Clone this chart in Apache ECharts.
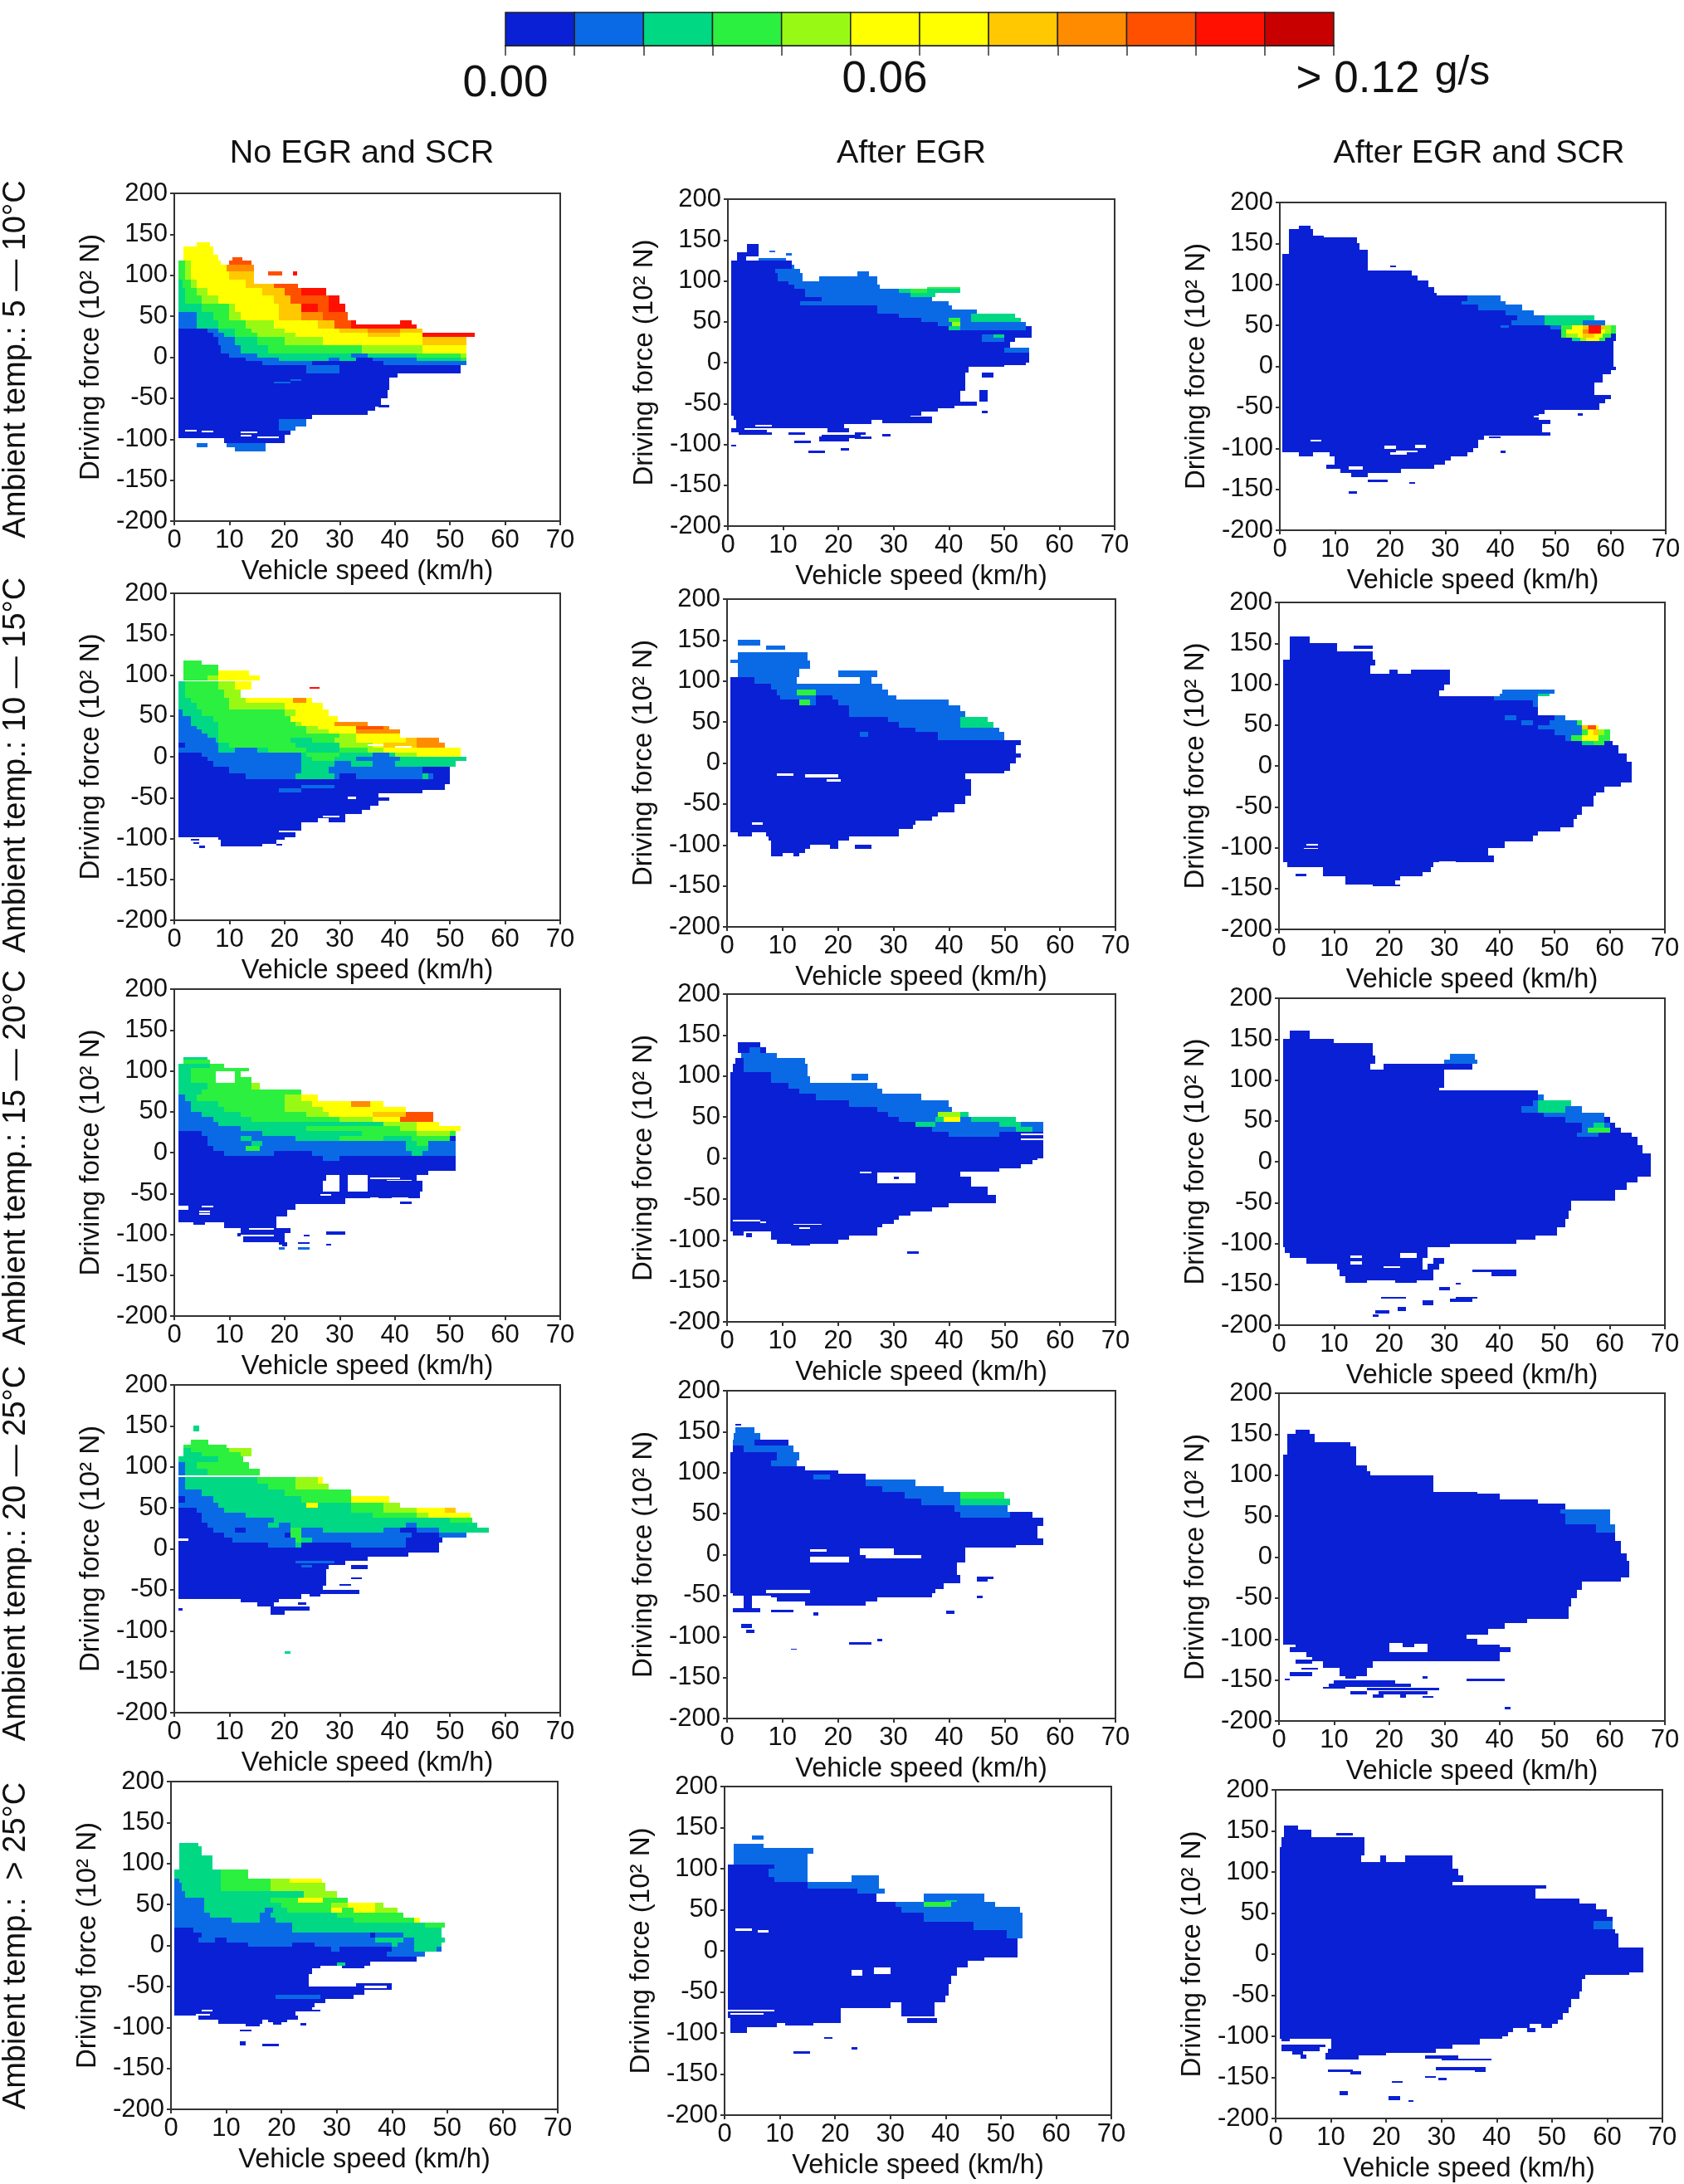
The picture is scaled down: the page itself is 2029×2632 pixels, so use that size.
<!DOCTYPE html>
<html><head><meta charset="utf-8">
<style>html,body{margin:0;padding:0;background:#fff}#c{width:2029px;height:2632px}</style>
<script src="https://cdn.jsdelivr.net/npm/echarts@6/dist/echarts.min.js"></script>
</head><body><div id="c"></div>
<script>
// Colour classes, level 1..12 = 0.00-0.01 ... 0.11-0.12 g/s; level 0 = no data
const palette=['#ffffff','#0a20d4','#0a6ae6','#00d884','#2cf040','#98fa14','#ffff00','#ffff00','#ffc800','#ff8c00','#ff5000','#ff1000','#c80000'];
const colorbarEdges=[0,0.01,0.02,0.03,0.04,0.05,0.06,0.07,0.08,0.09,0.10,0.11,0.12];
const colorbarLabels=['0.00','0.06','> 0.12'];
const colorbarUnit='g/s';
const columnTitles=['No EGR and SCR','After EGR','After EGR and SCR'];
const rowTitles=['Ambient temp.: 5 \u2014 10°C','Ambient temp.: 10 \u2014 15°C','Ambient temp.: 15 \u2014 20°C','Ambient temp.: 20 \u2014 25°C','Ambient temp.:  > 25°C'];
const xName='Vehicle speed (km/h)';
const yName='Driving force (10² N)';

// Each row: [forceHigh, forceLow, speedStart, speedEnd1, level1, speedEnd2, level2, ...]
const r1c1=[
[140,135,4,6.5,6],[135,125,1.7,7,6],[125,118,1.7,8,6],[122,118,10.5,12.3,10],
[118,113,0.7,2,4,3,5,8.5,6,10,0,14,10],[113,105,0.7,2,4,3,5,9.5,6,14.5,9],[105,100,17,19.5,10],[105,100,21.5,22.3,11],
[105,95,0.7,2,4,3,5,10,6,14.5,8],[95,90,0.7,1.5,3,3,4,4,5,13,6,14.5,8],[90,85,0.7,1.5,3,3,4,4,5,13,6,18,8,22.5,10],
[85,75,0.7,2,3,4,4,6,5,16,6,20,8,23,10,27.5,11],[75,65,0.7,2,3,5,4,8,5,18,6,21,8,24,10,28,10,30,11],
[65,55,0.7,5,3,10,4,11,5,19,6,23,8,26,11,28,10,31,11],[55,45,0.7,4,2,7,3,10,4,12,5,19,6,23,8,27,9,31.5,10],
[45,40,0.7,4,2,8,3,13,4,18,5,26,6,29,8,32,10,33,11,41,0,43,11],[40,35,0.7,4,2,8,3,13,4,18,5,26,6,29,8,32,10,44,11],
[35,30,0.7,6,1,8,2,11,3,14,4,20,5,30,6,35,8,41,9,45,8],
[30,25,0.7,7,1,9,2,11,3,15,4,22,5,35,6,41,8,45,6,54.5,11],[25,15,0.7,8,1,11,2,15,3,20,4,27,5,45,6,53,8],
[15,5,0.7,8.5,1,12,2,17,3,34,4,45,5,53,6],[5,0,0.7,10,1,15,2,32,3,35,2,44,3,52,4,53,5],
[0,-5,0.7,13,1,19,2,28,3,30,2,33,3,36,1,44,2,52,3,53,4],[-5,-10,0.7,16,1,25,2,38,1,53,2],
[-10,-20,0.7,24,1,30,2,52,1],[-20,-25,0.7,40.5,1],[-25,-40,0.7,39,1],[-40,-50,0.7,38.7,1],[-50,-60,0.7,37.5,1],[-58,-61,37,39,1],
[-60,-65,0.7,36.5,1],[-65,-70,0.7,35,1],[-70,-75,0.7,25,1],[-75,-85,0.7,19,1,24,2],[-85,-90,0.7,19,1,22,2],
[-90,-95,0.7,21,1],[-95,-99,0.7,20,1],[-99,-105,9,20,1],[-105,-110,4,6,2],[-105,-110,9.5,16.5,2],[-110,-115,11,16.5,2],
[-89,-91,2,4,0],[-90,-92,5,7,0],[-91,-93,12,15,0],[-95,-97,12,14,0],[-97,-99,15,19,0],[-30,-32,18,21,2],[-27,-29,21,23,2]];

const r2c1=[
[118,113,1.7,5,4],[113,106,1.7,8,4],[106,99,1.7,8,4,13.5,6],[99,93,1.7,6,4,8,5,15.5,6],
[92,82,0.7,2,3,8,4,11,5,14,6],[82,72,0.7,2,3,9,4,12,5],[85,83,24.5,26.3,11],
[72,66,0.7,3,3,10,4,13,5,21.5,6,24,9,25,6],[66,58,0.7,4,3,10,4,20,5,27,6],[58,50,0.7,1.5,2,5,3,20,4,22,5,28,6],
[50,43,0.7,3,2,7,3,21,4,29.6,6],[43,38,0.7,3,2,8,3,22,4,23,5,29,6,35,9],[38,33,0.7,4,2,8,3,24,4,26,5,33,6,38,10,39,9],
[33,28,0.7,5,2,8,3,24,4,28,5,33,6,41,9],[28,23,0.7,6,2,8,3,30,4,33,5,41,6],
[23,17,0.7,7.5,2,8,3,21,4,25,3,29,4,33,5,42,6,44,8,48,9],[17,11,0.7,2,1,8,2,10,3,22,4,30,3,36,5,38,6,44,8,49,9],
[11,5,0.7,8,2,11,3,15,2,17,3,24,4,30,3,35,4,38,5,43,6,52,6],[5,0,0.7,5,1,15,2,23,2,24,3,30,4,36,3,39,2,40,3,44,5,52,6],
[0,-5,0.7,6,1,23,2,25,3,29,4,33,3,41,2,44,3,53,3],[-5,-12,0.7,7,1,23,2,29,3,32,2,36,3,40,2,51,3],
[-12,-20,0.7,10,1,23,2,28,3,45,2,50,1],[-20,-27,0.7,13,1,22,2,29,3,30,2,33,1,45,2,46,3,47,2,50,1],
[-27,-34,0.7,50,1],[-34,-41,0.7,49,1],[-41,-45,0.7,45,1],[-39,-44,19,23,2],[-35,-39,23,29,2],
[-45,-50,0.7,37,1],[-50,-54,0.7,39,1],[-49,-52,31.5,33,0],[-54,-60,0.7,37,1],[-60,-65,0.7,35.5,1],[-65,-70,0.7,34,1],
[-70,-75,0.7,31,1],[-75,-80,0.7,26,1,28,0,31,1],[-80,-90,0.7,23,1],[-90,-98,0.7,22,1],[-98,-102,8,20,1],[-102,-107,8.5,18.5,1],
[-107,-110,8.5,16,1],[-101,-103,3,4.5,1],[-105,-107,3.5,4.5,1],[-109,-112,4.5,5.5,1],[-107,-109,18.5,19.5,1],
[15,13,35,38,0],[13,11,40,43,0],[-72,-74,27,30,0],[-90,-92,19,22,0]];

const r3c1=[
[117,114,1.7,6,3],[114,109,1.7,6.5,4],[109,104,0.7,6.5,3,9,4],[104,100,0.7,3,3,13.5,4],
[100,92,0.7,3,3,7.5,4,11,0,12,4],[92,85,0.7,3,3,7.5,4,11,0,14,4],[85,77,0.7,3,3,6,3,14,4,15.5,5],[77,71,0.7,2,3,5,3,23,4],
[71,63,0.7,2,2,4,3,12,4,20,4,23,5,26,6],[63,56,0.7,3,2,8,3,20,4,25,5,32,6,35.5,9,38,6],[56,50,0.7,3,2,9,3,20,4,27,5,33,6,42,6],
[50,44,0.7,5,2,12,3,24,4,28,5,36,6,42,8,47,10],[44,38,0.7,7,2,14,3,30,4,36,5,41,6,47,10],
[38,32,0.7,8,2,13,3,38,3,44,5,48,6],[32,26,0.7,9,2,12,2,24,3,41,4,44,5,52,6],
[26,20,0.7,5,1,6,2,16,2,34,3,44,4,50,5,51,4],[20,14,0.7,6,1,12,2,14,3,22,2,30,3,38,4,43,3,50,4,51,1],
[14,8,0.7,6,1,14,2,16,3,21,2,42,2,44,3,46,4,51,2],[8,2,0.7,7,1,13,2,15.5,4,24,2,42,2,46,3,51,2],
[2,-4,0.7,9,1,18,2,22,1,25,1,35,2,43,2,45,3,51,2],[-4,-10,0.7,20,1,27,1,30,2,51,1],[-10,-22,0.7,51,1],[-22,-27,0.7,46,1],
[-27,-35,0.7,27.5,1,30,0,31.5,1,35,0,44,1],[-35,-48,0.7,27,1,30,0,31.5,1,35,0,45,1],[-30,-32,35.5,41,0],[-33,-35,38.5,43,0],
[-48,-56,0.7,44.5,1],[-51,-53,26.5,28.5,0],[-55,-57,35.5,37,0],[-55,-57,39.5,42.5,0],[-56,-63,0.7,31,1],[-60,-63,41,43,1],
[-63,-70,0.7,22,1],[-65,-70,0.7,2.5,0],[-65,-67,5,7,0],[-70,-78,0.7,20.5,1],[-71,-73,4.5,6.5,0],[-74,-76,4.5,6.5,0],[-78,-85,0.7,18.5,1],
[-85,-92,9,18.5,1],[-85,-88,3.5,5.5,1],[-92,-98,12,21,1],[-96,-101,27.5,31,1],[-98,-103,11.5,20,1],[-100,-103,23.5,24.5,1],
[-103,-110,12.5,20,1],[-110,-113,19,20.5,1],[-113,-115,19.5,20.5,1],[-110,-112,22.5,24.5,1],[-116,-119,19,20,2],[-116,-119,22.5,24.5,2],
[-112,-114,27.5,28.5,1],[-92,-94,13.5,18,0],[-101,-103,12,18,0]];

const r4c1=[
[150,143,3.5,4.5,3],[133,127,3,6.2,4],[127,123,1.7,9.5,4],[123,118,1.7,3,3,10,4,14,5],[118,113,1.7,5,3,12,4,14,5],
[113,106,0.7,8,3,12.5,4],[106,98,0.7,2,2,4,3,13.5,4],[98,90,0.7,2,2,6,3,15.5,4],
[88,80,0.7,2,2,15,3,22,4,26,5,27,6],[80,72,0.7,2,2,17,3,22,4,28,5],[72,64,0.7,5,2,20,3,26,4,32,4],
[64,56,0.7,2,1,7,2,23,3,32,4,39,6],[56,50,0.7,3,2,8,2,24,3,26,6,32,3,38,4,41,5],
[50,44,0.7,4,1,9,2,32,3,38,4,44,5,49,6,51,8],[44,38,0.7,5,1,13,2,36,3,44,4,46,5,53.7,6],
[38,32,0.7,5,1,18,2,50,3,54,4],[32,26,0.7,6,1,17,2,19,3,21,2,26,3,42,3,44,2,48,3,55,3],
[26,20,0.7,7,1,11,2,13,1,21,2,23,4,27,2,38,3,41,2,44,1,48,2,50,3,57,3],
[20,14,0.7,9,1,20,2,21,1,23,4,36,2,43,2,48,1,53,2],[14,8,0.7,10.5,1,22,2,23,4,25,3,42,2,48.6,1],
[8,2,0.7,17,1,22,2,23,3,32,1,42,2,48,1],[2,-5,0.7,48,1],[-5,-10,0.7,42.5,1],[-10,-15,0.7,35,1],[-15,-20,0.7,31,1],
[-20,-25,0.7,28,1,32,0,35,1],[-25,-45,0.7,27.5,1],[-45,-50,0.7,27,1],[-50,-55,0.7,33.5,1],[-55,-61,0.7,23,1],
[-61,-65,12,19,1],[-65,-70,15,18,1],[-70,-75,17.5,24.5,1],[-75,-80,17.5,20,1],[-72,-75,0.7,1.5,1],[-65,-68,22.5,24,1],[-55,-58,24.5,26.5,1],
[-15,-18,22,29,2],[-20,-23,23,25,2],[13,10,0.7,2.5,0],[-125,-128,20,21,3],[-35,-37,32,34,1],[-43,-45,30,32,1]];

const r5c1=[
[125,121,1.5,5,3],[121,110,1.5,5.5,3],[110,102,1.5,7.5,3],[102,93,1.5,7.5,3],[93,85,0.6,9,3,14,4],
[82,76,0.6,1.5,2,9,3,18,4,21.5,5,27.4,6],[85,82,0.6,9,3,14,4],[76,66,0.6,2,2,9,3,18,4,26,5,28,5],
[66,58,0.6,2.5,2,8,3,24,3,30,5],[58,52,0.6,6,2,18,3,23,4,27.5,6,30,4,32,4],
[52,46,0.6,6,2,20,3,29,4,32,5,37,6,38.5,5],[46,40,0.6,6,2,17,3,18.5,2,21,3,29,4,31,6,33,4,37,6,41,5],
[40,34,0.6,7,2,16,3,18,2,21,3,30,3,42,4],[34,28,0.6,11,2,16,3,19,2,21,3,33,3,44,4,45,6],
[28,22,0.6,17,2,22,2,23,3,38,3,46,3,49.5,4],[22,16,0.6,4,1,22,2,36,3,49,3],[16,10,0.6,5.5,1,22,2,36,2,37,1,42,2,48,3,49,3],
[10,4,0.6,5,1,8,2,10,1,30,2,37,2,42,3,44,2,49.5,3],[4,-2,0.6,14,1,22,2,26,1,32,2,40,2,41,3,44,2,49,3],
[-2,-8,0.6,21,1,29,1,30.5,2,34,1,40,1,44,2,48,3,49,2],[-8,-14,0.6,34,1,37,1,39,1,46,2],[-14,-20,0.6,44.5,1],
[-20,-25,0.6,36,1],[-21,-25,30,31.5,3],[-25,-28,0.6,27,1,31,0,35,1],[-28,-35,0.6,25.5,1],[-35,-50,0.6,25,1],
[-46,-54,33.5,40,1],[-49,-52,35,39,0],[-50,-60,0.6,35,1],[-60,-65,0.6,33,1],[-60,-65,19,27,2],[-65,-70,0.6,28,1],[-70,-75,0.6,26,1],
[-75,-80,0.6,25.5,1],[-80,-86,0.6,22.5,1],[-78,-80,5.5,7.5,0],[-84,-88,4.5,7,0],[-86,-91,5,23,1],[-91,-96,8.5,16.5,1],[-96,-99,13.5,16,1],
[-91,-94,17.5,21,1],[-94,-97,18.5,20,1],[-95,-98,23.5,24.5,1],[-103,-105,12.5,14.5,1],[-117,-122,12.5,13.5,1],[-120,-123,16.5,19.5,1],[-78,-81,25.5,27,1]];

const r1c2=[
[145,135,3.5,5.5,1],[135,130,1.7,5.5,1],[137,135,7.5,8.5,2],[134,131,10.5,11.5,2],[130,125,1.7,3.3,1],[128,125,5.5,10.5,2],
[125,120,0.6,8,1,11.5,1],[120,115,0.6,11.5,1,12,2],[115,110,0.6,8.5,1,13,2],[110,106,0.6,9,1,13.5,2],[112,106,23.5,25.5,2],
[106,100,0.6,9,1,13.5,2,16.5,0,27,2],[100,95,0.6,11,1,27,2],[95,90,0.6,12,1,27.5,2],
[90,85,0.6,14,1,20,2,31,2,33,3,36,4,42,3],[92,90,36,42,4],[85,80,0.6,14,1,33,2,37.5,3],[80,75,0.6,17,1,37,2],
[75,70,0.6,13,1,17,2,40,2],[70,65,0.6,20,1,27,1,40.5,2],[65,60,0.6,27,1,45,2],[60,55,0.6,31,1,44,2,52,3],
[55,50,0.6,35,1,40,2,42,4,44,2,53,3],[50,45,0.6,38,1,40.5,2,42,5,44,2,54,2],[45,40,0.6,40,1,42,3,48,2,54,2,55,1],
[40,35,0.6,52,1,55,1],[35,30,0.6,46,1,48,2,50,3,55,1],[30,25,0.6,46,1,50,2,52,1],[25,18,0.6,51,1],[18,12,0.6,50,1,54.5,2],
[12,0,0.6,54.5,1],[0,-3,0.6,54,1],[-3,-5,0.6,50,1],[-5,-12,0.6,43.5,1],[-12,-16,46,48,1],[-12,-32,0.6,43,1],[-16,-18,46,48,1],[-32,-35,0.6,43,1],
[-35,-48,0.6,42,1],[-33,-48,45.5,47,1],[-48,-53,0.6,45,1],[-53,-56,0.6,41,1],[-56,-60,0.6,38,1],[-59,-62,46,47,1],[-60,-65,0.6,35,1],
[-65,-70,1,33,1],[-66,-70,33,37,1],[-70,-75,1.5,26,1],[-70,-74,28,37,1],[-75,-80,1.5,21,1],[-80,-85,0.6,7,1],[-80,-85,18,22,1],
[-85,-88,2,8,1],[-85,-88,11,14,1],[-85,-88,23,25,1],[-88,-92,17,24,1],[-90,-96,16.5,22,1],[-90,-93,23,26,1],[-95,-98,12,15,1],[-100,-103,0.6,1.5,1],
[-105,-108,20.5,22,1],[-108,-111,14.5,17.5,1],[-87,-90,28,29.5,1],[-76,-78,5,8,0],[-80,-82,3,8,0]];

const r2c2=[
[150,143,2,6,2],[143,138,7,10.5,2],[135,125,2,14.5,2],[125,115,2,15,2],[126,122,0.6,2,2],[113,105,20,27,2],
[115,105,2,13,2],[105,97,0.6,5,1,12.5,2,24,0,26,2],[97,90,0.6,8,1,13,2,28,2],[90,83,0.6,9,1,12.5,2,16,4,29,2],
[83,77,0.6,9.5,1,13,2,16,2,19,1,30.5,2],[77,70,0.6,13,1,15,4,16,2,20,1,40,2],[70,63,0.6,15,1,22,1,42,2],[63,56,0.6,22,1,30,2,43,2],
[56,50,0.6,29,1,42,2,47,3],[50,43,0.6,31,1,42,2,48,3],[43,38,0.6,34,1,41,2,49,2],[48,28,21,27,1],[38,28,0.6,38,1,50,2],[38,32,24,25.5,2],[28,22,0.6,50,1,53,1],
[22,12,0.6,52,1],[12,7,0.6,53,1],[7,0,0.6,52,1],[0,-10,0.6,51,1],[-10,-13,0.6,50,1],[-13,-20,0.6,43,1],[-13,-16,9,12,0],[-14,-18,14,20,0],
[-20,-40,0.6,44,1],[-20,-23,18,20.5,0],[-40,-50,0.6,43,1],[-50,-60,0.6,41,1],[-60,-65,0.6,38,1],[-65,-70,0.6,37,1],[-70,-75,0.6,34,1],
[-72,-75,4.5,6.5,0],[-75,-80,0.6,33.5,1],[-80,-85,0.6,31,1],[-85,-90,2,4.5,1],[-85,-90,7,31,1],[-90,-95,7.5,22,1],[-95,-100,8,20,1],
[-100,-105,8,15,1],[-100,-105,18.5,20,1],[-100,-105,23,26,1],[-105,-110,8,14,1],[-110,-114,8,10,1],[-110,-114,12,13,1]];

const r3c2=[
[141,135,2,6,1],[135,128,2,4,1,6,2,7,1],[128,122,2.5,9,2],[122,115,1.5,3,1,5,2,14,2],[115,105,1,3,1,14.5,2],[105,100,0.6,8,1,14.5,2],
[100,92,0.6,8,1,15,2],[103,95,22.5,25.5,2],[92,85,0.6,11,1,20,2,27,2],[85,78,0.6,13,1,28,2],[78,70,0.6,16,1,35,2],[70,62,0.6,22,1,40,2],
[62,56,0.6,27,1,40.5,2],[56,50,0.6,29,1,38,2,42,5,43.5,3],[50,44,0.6,31,1,37.5,2,39,3,42,6,44,2,52,3],[44,38,0.6,34,1,37.5,3,40,2,49,2,53,3,57,2],
[38,32,0.6,37,1,52,2,55,3,57,2],[32,26,0.6,40,1,49,2,57,1],[30,28,53,57,0],[26,20,0.6,47,1,57,1],[24,22,53,57,0],[20,0,0.6,57,1],[0,-3,0.6,56,1],
[-3,-8,0.6,55,1],[-8,-13,0.6,53,1],[-13,-17,0.6,49,1],[-17,-23,0.6,42,1],[-18,-23,27,34,0],[-17,-19,24,26,0],[-23,-35,0.6,44,1],[-23,-31,27,34,0],[-23,-26,30,31,1],
[-35,-45,0.6,47,1],[-45,-50,0.6,48.5,1],[-50,-55,0.6,48.5,1],[-55,-60,0.6,40,1],[-60,-65,0.6,37,1],[-65,-70,0.6,33,1],[-70,-75,0.6,31,1],
[-75,-80,0.6,30,1],[-80,-85,0.6,28,1],[-85,-90,0.6,27,1],[-90,-95,1,3,1],[-90,-95,8,27,1],[-95,-100,8,22,1],[-100,-105,9,20,1],[-105,-107,11.5,15,1],
[-75,-77,1,6,0],[-77,-79,6,7,0],[-80,-82,12,17,0],[-85,-87,13,15,0],[-92,-97,3.5,4.5,1],[-114,-117,32.5,34.5,1]];

const r4c2=[
[160,157,1.5,2.5,1],[155,148,1.5,5,2],[148,140,1.2,6,2],[140,133,1,5,2,7,1,11,1],[133,125,1,3,1,6,2,9,2,12,2],[125,115,0.6,9,1,13,2],
[115,108,0.6,8,1,12.5,2],[108,103,0.6,14,1],[103,99,0.6,20,1],[99,92,0.6,25,1],[98,90,15.5,18.5,2],[92,84,0.6,25,1,34,2],[84,76,0.6,28,1,39,2],
[76,68,0.6,32,1,42,2,50,4],[68,60,0.6,35,1,42,2,49,3,51,3],[60,52,0.6,41,1,50.5,2],[52,45,0.6,42,1,51,2,55,1],[45,35,0.6,57,1],[35,20,0.6,56,1],
[20,12,0.6,57,1],[12,9,0.6,52,1],[9,-10,0.6,43,1],[8,0,24,30,0],[0,-5,25,35,0],[7,4,15,18,0],[-3,-9,15,22,0],[-9,-13,15,22,0],[-10,-25,0.6,41.5,1],
[-25,-35,0.6,42,1],[-27,-30,45,48,1],[-30,-33,45,47,1],[-35,-42,0.6,39,1],[-42,-47,0.6,37.5,1],[-43,-47,7,15,0],[-47,-52,8,37,1],[-47,-50,1,8,1],
[-52,-57,9,27,1],[-57,-62,14,25,1],[-50,-65,3,4.5,1],[-65,-70,1,6,1],[-67,-70,8,12,1],[-70,-74,15.5,16.5,1],[-85,-90,2.5,4.5,1],[-92,-96,3.5,5,1],
[-107,-110,22,26,1],[-103,-106,27,28,1],[-115,-116,11.5,12.5,1],[-68,-72,39.5,41,1],[-50,-53,45,46,1]];

const r5c2=[
[140,135,5,7,2],[130,125,1.7,7,2],[125,118,1.7,9,2,16,2],[118,105,1.7,15,2],[105,100,0.6,9,1,15,2],[100,90,0.6,8,1,15,2],[90,84,0.6,9,1,15,2],
[92,84,23,28,2],[84,76,0.6,15,1,28,2],[76,70,0.6,24,1,29,2],[70,60,0.6,27.5,1,36,0,47,2],[60,54,0.6,31,1,36,2,41,4,49,2],[54,46,0.6,32,1,53.5,2],
[46,35,0.6,36,1,54,2],[35,25,0.6,45,1,54,2],[25,15,0.6,51,1,54,2],[15,-8,0.6,53,1],[-8,-12,0.6,47,1],[-12,-20,0.6,44,1],[-20,-30,0.6,42,1],
[-23,-30,23,25,0],[-20,-28,27,30,0],[-30,-40,0.6,41,1],[-40,-55,0.6,40.5,1],[-55,-63,0.6,40,1],[-63,-70,0.6,30,1,32,0,38,1],[-70,-82,0.6,21,1],[-70,-80,32,38,1],
[-72,-74,0.6,9,0],[-76,-78,1,7,0],[-82,-88,1,21,1],[-82,-88,33,38.5,1],[-88,-93,1,9.5,1],[-88,-91,11,16,1],[-93,-100,1,4,1],[-105,-107,18,19.5,1],
[-117,-120,23,24,1],[-122,-125,12.5,15.5,1],[-12,-14,2,3,1],[27,24,2,5,0],[25,22,6,8,0],[62,60,40,42,3]];

const r1c3=[
[172,168,3.5,5.5,1],[168,160,1.7,6,1],[160,157,1.7,8,1],[157,150,1.7,14,1],[150,142,1.7,14.5,1],[142,137,1.7,16,1],[137,117,0.5,16,1],[123,121,20,21,1],
[117,111,0.5,24,1],[111,105,0.5,25,1],[105,97,0.5,27,1],[97,90,0.5,28,1],[90,87,0.5,28.5,1],[87,80,0.5,34,1,40,2],[80,75,0.5,33,1,41,2],[75,68,0.5,36,1,44,2],
[68,62,0.5,41,1,46,2],[62,56,0.5,43,1,48,2,57,3],[56,50,0.5,42,1,48,2,55,3,58,2,59,2],[50,45,0.5,49,1,51,2,53,4,55,6,56,8,58.3,11,59,8,60,5,61,4],
[45,40,0.5,51,1,52,4,53,6,55,6,56,9,58.3,11,59,6,60,5,61,4],[40,35,0.5,51,1,52,4,54,5,55,6,57,8,58.5,6,60,4,61,1],[35,31,0.5,53,1,54.5,3,55.5,5,58,6,59,4,61,1],[50,47,40,41.5,2],
[31,0,0.5,60.5,1],[0,-5,0.5,61,1],[-5,-10,0.5,60,1],[-10,-20,0.5,58.5,1],[-20,-35,0.5,57,1],[-35,-40,0.5,60,1],[-40,-45,0.5,59,1],[-45,-53,0.5,58,1],[-53,-58,0.5,48,1],
[-57,-60,54,55,1],[-58,-65,0.5,47,1],[-60,-62,46,49,0],[-65,-70,0.5,49,1],[-70,-80,0.5,47.5,1],[-80,-85,0.5,49,1],[-85,-90,0.5,37,1],[-90,-100,0.5,36,1],[-100,-105,0.5,35,1],
[-105,-110,3.5,6,1],[-105,-110,9,34,1],[-110,-115,10,31,1],[-115,-120,10,30,1],[-120,-125,8.5,28,1],[-125,-130,11,22,1],[-130,-135,13,16,1],
[-90,-92,5.5,7.5,0],[-97,-101,19,21,0],[-96,-100,24.5,26.5,0],[-103,-105,21,25,0],[-105,-108,20,23,0],[-122,-126,12.5,15,0],
[-152,-155,12.5,14,1],[-138,-141,16,19.5,1],[-141,-143,23.5,24.5,1],[-103,-106,40,41,1],[-86,-88,38,40,1]];

const r2c3=[
[158,150,2,5.5,1],[150,140,2,10.5,1],[147,143,13.5,17,1],[140,130,2,17,1],[130,123,0.7,17.5,1],[123,118,0.7,16.5,1],[118,113,0.7,16.5,1,20,0,21.5,1,24,0,31,1],
[113,100,0.7,31,1],[100,92,0.7,30,1],[93,88,40.5,50,2],[92,88,0.7,29,1],[88,85,0.7,29,1,40,0,47,2,49,3],[85,80,0.7,39,1,47,2],[80,72,0.7,46,1,47,2],
[72,62,0.7,47,1],[62,56,0.7,41,1,43,2,50,1,52,2],[56,50,0.7,44,1,46,2,49,1,54,2,55,4],[50,45,0.7,47,1,55,2,56,8,57.5,10,58,6],[45,38,0.7,50,1,55,2,56,4,57,6,58,8,59,5,60,4],
[38,30,0.7,52,1,53,2,55,4,58,6,60,4],[30,25,0.7,55,1,57,3,59,4,60.5,1],[25,15,0.7,61.5,1],[15,5,0.7,63,1],[5,-20,0.7,64,1],[-20,-25,0.7,62,1],[-25,-32,0.7,59,1],[-32,-37,0.7,57.5,1],
[-37,-50,0.7,57,1],[-50,-60,0.7,55,1],[-60,-65,0.7,54,1],[-65,-75,0.7,53.5,1],[-75,-80,0.7,51,1],[-80,-85,0.7,47,1],[-85,-92,0.7,46,1],[-92,-100,0.7,41,1],[-100,-110,0.7,38,1],
[-110,-118,0.7,39,1],[-118,-124,1.5,28,1],[-124,-130,8,27.5,1],[-130,-135,8,26,1],[-135,-140,12,22,1],[-140,-145,12,21,1],[-132,-135,3,5,1],[-145,-147,17,22,1],
[-95,-97,5,7,0],[-100,-102,4.5,7,0],[-117,-120,29,32,0],[-120,-123,29.5,32,0]];

const r3c3=[
[160,150,2,5.5,1],[150,142,0.7,10,1],[145,130,0.7,17,1],[132,122,31,35.5,2],[130,120,0.7,17.5,1],[125,120,30,36,2],[120,113,0.7,16.5,1,19,0,29,1,35,1],[113,90,0.7,30,1],[90,87,0.7,29,1],
[87,82,0.7,47,1],[82,75,0.7,47,1,48,2],[75,68,0.7,46,1,47,2,53,3],[68,60,0.7,44,1,47,2,52,3,55,2],[60,55,0.7,48,1,59,2],[55,48,0.7,52,1,59,2,60,1],[48,42,0.7,55,1,57,2,59,3,60,2,61,1],
[42,36,0.7,55,1,56,2,60,4,62,1],[36,30,0.7,54,1,58,2,64,1],[30,20,0.7,65,1],[20,10,0.7,66,1],[10,-10,0.7,67.5,1],[-10,-18,0.7,67.5,1],[-18,-25,0.7,65,1],[-25,-35,0.7,63,1],[-35,-48,0.7,61,1],
[-48,-60,0.7,53,1],[-60,-70,0.7,52.5,1],[-70,-80,0.7,52,1],[-80,-90,0.7,50.5,1],[-90,-95,0.7,46.5,1],[-95,-100,0.7,43,1],[-100,-105,0.7,31,1],[-105,-112,1,27,1],[-112,-118,2,22,1],[-112,-118,25,27,1],
[-118,-125,5,26,1],[-118,-125,28,30,1],[-125,-132,10.5,26,1],[-125,-132,27,29,1],[-132,-140,11,28,1],[-132,-135,35,43,1],[-135,-140,38.5,43,1],[-140,-145,12,28,1],[-145,-148,12,16,1],[-145,-148,21,25,1],
[-153,-157,29,31,1],[-148,-150,32,33,1],[-165,-168,18.5,23,1],[-170,-176,26,28,1],[-168,-172,31,35,1],[-182,-186,17.5,20,1],[-178,-183,21.5,23,1],[-187,-190,17,18,1],[-165,-168,32,36,1],
[-115,-118,13,15,0],[-122,-126,13,15,0],[-128,-130,19,22,0]];

const r4c3=[
[155,150,3,5.5,1],[150,140,1.5,6.5,1],[140,135,1.5,13,1],[135,125,1.5,14,1],[125,112,0.7,14,1],[112,105,0.7,16,1],[105,98,0.7,16.5,1],[100,80,0.7,28,1],[80,77,0.7,36,1],[77,70,0.7,40,1],
[70,65,0.7,47,1],[65,58,0.7,52,1],[58,53,0.7,51,1,60,2],[53,40,0.7,52,1,60,2],[40,30,0.7,57.5,1,61,2],[30,20,0.7,61,1],[20,5,0.7,62,1],[5,-5,0.7,63,1],[-5,-25,0.7,63.5,1],[-25,-30,0.7,62,1],
[-30,-40,0.7,55,1],[-40,-50,0.7,54,1],[-50,-60,0.7,53,1],[-60,-75,0.7,52.5,1],[-75,-80,0.7,45,1],[-80,-88,0.7,41,1],[-88,-95,0.7,38,1],[-95,-100,0.7,34,1],[-100,-107,0.7,36,1],[-107,-110,3,40,1],
[-110,-116,2,20,1],[-110,-116,27,42,1],[-105,-115,20,22.5,0],[-106,-115,24.5,27,0],[-116,-122,5,40,1],[-122,-127,6,40,1],[-127,-135,8,17,1],[-135,-145,11,16,1],[-145,-148,12,14,1],
[-125,-130,3,6,1],[-135,-137,4,7,1],[-140,-145,2,6,1],[-148,-150,1,2,1],[-150,-154,10,21,1],[-154,-158,9,24,1],[-158,-161,8,12,1],[-159,-163,16,29,1],[-164,-168,13,16,1],[-164,-168,18,27,1],
[-168,-172,17,19,1],[-168,-172,22,23,1],[-170,-172,26,28,1],[-148,-151,34,41,1],[-145,-148,26,27,1],[-183,-186,41,42,1]];

const r5c3=[
[157,152,1.5,4,1],[152,145,1.5,6.5,1],[145,142,1.5,6.5,1],[147,144,11,14,1],[142,130,1,16,1],[130,120,0.7,16,1],[120,112,0.7,15.5,1,19,0,20,1,23.5,0,32,1],[112,104,0.7,32,1],[104,96,0.7,33,1],[96,88,0.7,34,1],
[88,84,0.7,32,1],[84,80,0.7,49,1],[80,68,0.7,47,1],[68,62,0.7,55,1],[62,55,0.7,58,1],[55,45,0.7,60,1],[45,40,0.7,59,1,61,1],[40,30,0.7,57.5,1,61,2],[30,25,0.7,61.5,1],[25,8,0.7,62,1],[8,-22,0.7,66.5,1],
[-22,-25,0.7,64,1],[-25,-30,0.7,56,1],[-30,-45,0.7,55.5,1],[-45,-55,0.7,55,1],[-55,-65,0.7,53.5,1],[-65,-72,0.7,53,1],[-72,-80,0.7,52,1],[-80,-85,0.7,51,1],[-85,-90,0.7,46,1,48,0,50,1],[-90,-95,0.7,43,1,45.5,0,47,1],
[-95,-100,0.7,42,1],[-100,-103,0.7,41,1],[-103,-110,10,37,1],[-110,-115,10,32,1],[-115,-120,9.5,29,1],[-120,-123,9,20,1],[-123,-128,9,15,1],
[-103,-106,1,2.5,1],[-110,-113,1,9,1],[-113,-118,1,8,1],[-118,-122,3,5,1],[-122,-127,4.5,5.5,1],[-123,-127,27,33,1],[-127,-129,30,39,1],[-137,-141,29,38,1],[-141,-143,36,38,1],[-140,-143,9.5,14,1],[-142,-146,13.5,15.5,1],
[-148,-150,27,29,1],[-150,-154,29.5,31,1],[-155,-157,21,23,1],[-167,-172,11.5,13,1],[-173,-178,20.5,22.5,1],[-178,-180,24,25,1]];

const panelRows=[[r1c1,r1c2,r1c3],[r2c1,r2c2,r2c3],[r3c1,r3c2,r3c3],[r4c1,r4c2,r4c3],[r5c1,r5c2,r5c3]];
// plot boxes: [left,right,top,bottom]
const boxes=[
[[210,675,233,628],[877,1343,240,634],[1542,2007,244,639]],
[[210,675,715,1109],[876,1344,722,1117],[1541,2006,726,1120]],
[[210,675,1192,1586],[876,1344,1198,1593],[1541,2006,1203,1597]],
[[210,675,1669,2064],[876,1344,1676,2071],[1541,2006,1679,2074]],
[[206,672,2147,2542],[873,1339,2153,2549],[1537,2003,2157,2554]]];

function cells(rows){const out=[];rows.forEach(r=>{let s=r[2];for(let i=3;i<r.length;i+=2){out.push([s,r[i],r[0],r[1],r[i+1]]);s=r[i];}});return out;}
function renderCell(params,api){
  const a=api.coord([api.value(0),api.value(2)]),b=api.coord([api.value(1),api.value(3)]);
  const x=Math.round(a[0]),y=Math.round(a[1]);
  return {type:'rect',shape:{x:x,y:y,width:Math.round(b[0])-x,height:Math.round(b[1])-y},style:{fill:palette[api.value(4)]}};
}
const FONT='Liberation Sans';
const grid=[],xAxis=[],yAxis=[],series=[],graphic=[];
boxes.forEach((row,ri)=>row.forEach((b,ci)=>{
  const i=grid.length;
  grid.push({left:b[0],top:b[2],width:b[1]-b[0],height:b[3]-b[2],show:true,borderColor:'#333',borderWidth:2,backgroundColor:'#fff'});
  xAxis.push({type:'value',gridIndex:i,min:0,max:70,interval:10,splitLine:{show:false},
    axisLine:{show:true,onZero:false,lineStyle:{color:'#333',width:2}},axisTick:{show:true,length:5,lineStyle:{color:'#333',width:2}},
    axisLabel:{fontFamily:FONT,fontSize:31,color:'#111',margin:8,hideOverlap:false,showMinLabel:true,showMaxLabel:true},
    name:xName,nameLocation:'middle',nameGap:45,nameTextStyle:{fontFamily:FONT,fontSize:32.5,color:'#111'}});
  yAxis.push({type:'value',gridIndex:i,min:-200,max:200,interval:50,splitLine:{show:false},
    axisLine:{show:true,onZero:false,lineStyle:{color:'#333',width:2}},axisTick:{show:true,length:5,lineStyle:{color:'#333',width:2}},
    axisLabel:{fontFamily:FONT,fontSize:31,color:'#111',margin:8,hideOverlap:false,showMinLabel:true,showMaxLabel:true},
    name:yName,nameLocation:'middle',nameGap:84,nameTextStyle:{fontFamily:FONT,fontSize:33,color:'#111'}});
  series.push({type:'custom',xAxisIndex:i,yAxisIndex:i,coordinateSystem:'cartesian2d',data:cells(panelRows[ri][ci]),renderItem:renderCell,
    encode:{x:[0,1],y:[2,3]},animation:false,silent:true,progressive:0,clip:true,z:3});
}));
// colour bar
const cb=grid.length;
grid.push({left:609,top:15,width:998,height:40,show:false});
xAxis.push({type:'value',gridIndex:cb,min:0,max:0.12,interval:0.01,splitLine:{show:false},
  axisLine:{show:true,onZero:false,lineStyle:{color:'#222',width:2}},axisTick:{show:true,length:12,lineStyle:{color:'#333',width:1.5}},
  axisLabel:{fontFamily:FONT,fontSize:53,color:'#111',margin:20,showMinLabel:true,showMaxLabel:true,hideOverlap:false,
    formatter:v=>Math.abs(v)<1e-6?colorbarLabels[0]:''}});
yAxis.push({type:'value',gridIndex:cb,min:0,max:1,show:false});
series.push({type:'custom',xAxisIndex:cb,yAxisIndex:cb,coordinateSystem:'cartesian2d',
  data:colorbarEdges.slice(0,-1).map((e,i)=>[e,colorbarEdges[i+1],i+1]),encode:{x:[0,1]},animation:false,silent:true,progressive:0,
  renderItem:(p,api)=>{const a=api.coord([api.value(0),1]),b=api.coord([api.value(1),0]);
    return {type:'rect',shape:{x:a[0],y:a[1],width:b[0]-a[0],height:b[1]-a[1]},style:{fill:palette[api.value(2)],stroke:'#222',lineWidth:1.5}};}});
// texts
const txt=(t,x,y,size,rot)=>graphic.push({type:'text',x:x,y:y,rotation:rot||0,z:10,
  style:{text:t,fontFamily:FONT,fontSize:size,fill:'#111',align:'center',verticalAlign:'middle'}});
txt(colorbarLabels[1],1066,96,53);
txt(colorbarLabels[2],1636,96,53);
txt(colorbarUnit,1762,88,50);
[436,1098,1782].forEach((x,i)=>txt(columnTitles[i],x,185,39.5));
[433,922,1395,1872,2345].forEach((y,i)=>txt(rowTitles[i],20,y,38,Math.PI/2));
const chart=echarts.init(document.getElementById('c'),null,{renderer:'canvas',width:2029,height:2632});
chart.setOption({animation:false,backgroundColor:'#fff',grid,xAxis,yAxis,series,graphic});
</script></body></html>
